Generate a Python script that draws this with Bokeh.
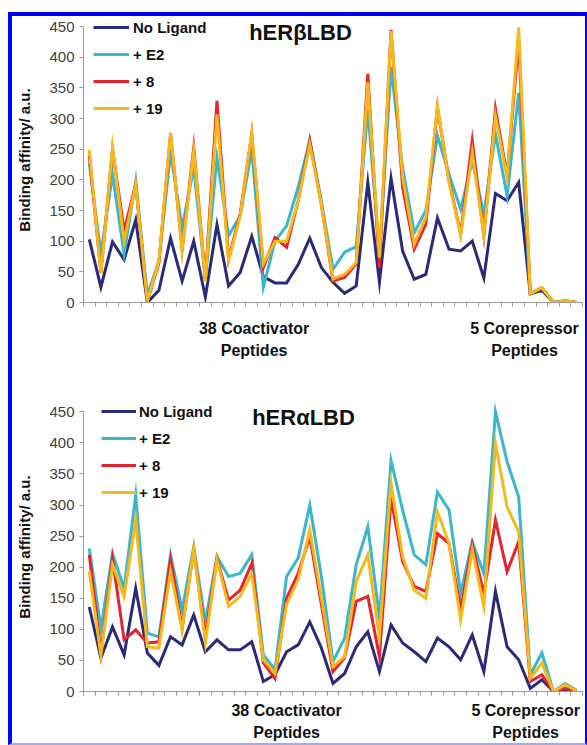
from bokeh.plotting import figure
from bokeh.models import Range1d, FixedTicker, Legend, LegendItem, Label, LinearAxis
from bokeh.layouts import column
from bokeh.embed import file_html
from bokeh.resources import INLINE

# ---------------- data ----------------
peptides = list(range(1, 44))  # 38 coactivator + 5 corepressor peptide positions

series_names = ["No Ligand", "+ E2", "+ 8", "+ 19"]

# hER-beta LBD
beta_no_ligand = [103, 25, 99, 70, 135, 0, 20, 105, 35, 100, 9, 127, 27, 49, 108, 42, 32, 32, 62, 105,
                  57, 33, 15, 27, 196, 33, 203, 84, 38, 46, 138, 87, 84, 100, 40, 178, 166, 196, 14, 20,
                  0, 2, 0]
beta_e2 = [228, 79, 209, 79, 198, 12, 68, 245, 122, 220, 38, 236, 109, 141, 250, 25, 100, 125, 188, 265,
           165, 54, 82, 91, 315, 79, 384, 220, 114, 150, 272, 209, 152, 231, 144, 275, 174, 342, 14, 24,
           0, 3, 0]
beta_8 = [240, 49, 250, 117, 193, 2, 65, 275, 87, 253, 38, 329, 71, 144, 275, 57, 106, 90, 166, 264,
          160, 35, 41, 63, 373, 57, 445, 188, 87, 128, 318, 199, 112, 264, 109, 316, 207, 427, 14, 24,
          0, 3, 0]
beta_19 = [249, 47, 253, 100, 193, 2, 68, 277, 84, 248, 35, 307, 68, 141, 277, 63, 100, 100, 166, 258,
           160, 38, 46, 65, 359, 73, 443, 204, 95, 139, 321, 196, 109, 245, 109, 305, 204, 449, 14, 24,
           0, 3, 0]

# hER-alpha LBD
alpha_no_ligand = [136, 54, 104, 59, 166, 62, 42, 88, 75, 123, 64, 83, 67, 67, 80, 16, 27, 64, 75, 112,
                   70, 13, 29, 72, 96, 32, 107, 78, 64, 48, 86, 72, 51, 91, 32, 161, 72, 51, 5, 19,
                   0, 3, 0]
alpha_e2 = [230, 102, 222, 166, 316, 94, 88, 220, 131, 233, 112, 217, 185, 190, 220, 59, 35, 185, 215, 300,
            185, 48, 86, 204, 265, 120, 372, 292, 220, 204, 321, 292, 158, 241, 190, 450, 370, 313, 27, 62,
            0, 13, 2]
alpha_8 = [220, 62, 214, 83, 99, 78, 80, 212, 102, 228, 88, 214, 147, 163, 206, 46, 21, 150, 190, 249,
           140, 32, 54, 145, 153, 56, 311, 209, 169, 161, 254, 238, 131, 236, 158, 276, 193, 241, 16, 27,
           0, 5, 1]
alpha_19 = [193, 58, 204, 153, 276, 72, 70, 193, 99, 230, 78, 212, 137, 153, 190, 51, 29, 140, 180, 260,
            150, 40, 56, 177, 220, 88, 335, 217, 163, 150, 289, 238, 115, 228, 137, 399, 297, 257, 21, 46,
            0, 11, 1]

y_ticks = [0, 50, 100, 150, 200, 250, 300, 350, 400, 450]
group_labels = ["38 Coactivator\nPeptides", "5 Corepressor\nPeptides"]
y_title = "Binding affinity/ a.u."

colors = ["#2B2A78", "#3BB6CA", "#E6232E", "#F6B91C"]

FONT = "Liberation Sans"


def panel(title, series, height, top, bottom, leg_xy, glyph_w, standoff,
          title_xy, ylab_span, group_pos, group_standoff):
    p = figure(width=573, height=height, output_backend="svg", toolbar_location=None,
               x_range=Range1d(peptides[0] - 0.5, peptides[-1] + 0.5),
               y_range=Range1d(0, 465),
               min_border_left=70, min_border_right=3,
               min_border_top=top, min_border_bottom=bottom)
    p.outline_line_color = None
    p.grid.visible = False

    # y axis
    p.yaxis.ticker = FixedTicker(ticks=y_ticks)
    p.yaxis.bounds = (0, 450)
    p.yaxis.major_label_text_font = FONT
    p.yaxis.major_label_text_font_size = "15px"
    p.yaxis.major_label_text_color = "#404040"
    p.yaxis.major_label_standoff = 5
    p.yaxis.axis_line_color = "#9a9a9a"
    p.yaxis.major_tick_line_color = "#9a9a9a"
    p.yaxis.major_tick_in = 0
    p.yaxis.major_tick_out = 4
    p.yaxis.minor_tick_line_color = None

    # axis title carried by an invisible outer axis, centred on the span it covers
    title_axis = LinearAxis(ticker=FixedTicker(ticks=[]), bounds=ylab_span,
                            axis_line_color=None, major_tick_line_color=None,
                            minor_tick_line_color=None, major_tick_in=0, major_tick_out=0,
                            axis_label=y_title, axis_label_standoff=14,
                            axis_label_text_font=FONT, axis_label_text_font_style="bold",
                            axis_label_text_font_size="15px", axis_label_text_color="#111111")
    p.add_layout(title_axis, "left")

    # x axis: tick marks between peptides, group names as labels
    p.xaxis.ticker = FixedTicker(ticks=group_pos,
                                 minor_ticks=[x - 0.5 for x in peptides] + [peptides[-1] + 0.5])
    p.xaxis.major_label_overrides = {g: t for g, t in zip(group_pos, group_labels)}
    p.xaxis.major_label_text_font = FONT
    p.xaxis.major_label_text_font_style = "bold"
    p.xaxis.major_label_text_font_size = "16px"
    p.xaxis.major_label_text_color = "#111111"
    p.xaxis.major_label_text_line_height = 1.3
    p.xaxis.major_label_standoff = group_standoff
    p.xaxis.major_tick_line_color = None
    p.xaxis.major_tick_in = 0
    p.xaxis.major_tick_out = 0
    p.xaxis.axis_line_color = "#9a9a9a"
    p.xaxis.minor_tick_line_color = "#9a9a9a"
    p.xaxis.minor_tick_in = 0
    p.xaxis.minor_tick_out = 4

    items = []
    for name, vals, col in zip(series_names, series, colors):
        r = p.line(peptides, vals, line_color=col, line_width=3, line_join="miter")
        items.append(LegendItem(label=name, renderers=[r]))

    leg = Legend(items=items, location=leg_xy, padding=0, margin=0, spacing=7,
                 glyph_height=20, label_height=20, glyph_width=glyph_w, label_standoff=standoff,
                 label_text_font=FONT, label_text_font_style="bold", label_text_font_size="15px",
                 label_text_color="#111111",
                 background_fill_alpha=0, border_line_color=None)
    p.add_layout(leg)

    p.add_layout(Label(x=title_xy[0], y=title_xy[1], x_units="screen", y_units="screen",
                       text=title, text_font=FONT, text_font_style="bold", text_font_size="22px",
                       text_align="center", text_baseline="middle", text_color="#111111"))
    return p


p1 = panel("hERβLBD", [beta_no_ligand, beta_e2, beta_8, beta_19], 359, 1, 73,
           (10, 184), 36, 4, (217, 270), (94, 450), [15.2, 38.5], 13)
p2 = panel("hERαLBD", [alpha_no_ligand, alpha_e2, alpha_8, alpha_19], 368, 27, 51,
           (18, 189), 35, 3, (220, 274), (0, 450), [18.0, 38.6], 6)

layout = column(p1, p2, spacing=0,
                styles={"border-left": "4px solid #0000FF", "border-top": "4px solid #0000FF",
                        "border-right": "2px solid #0000FF", "border-bottom": "2px solid #A8A8F0",
                        "margin-top": "12px", "margin-left": "8px"})

open("out.html", "w").write(file_html(layout, INLINE))
